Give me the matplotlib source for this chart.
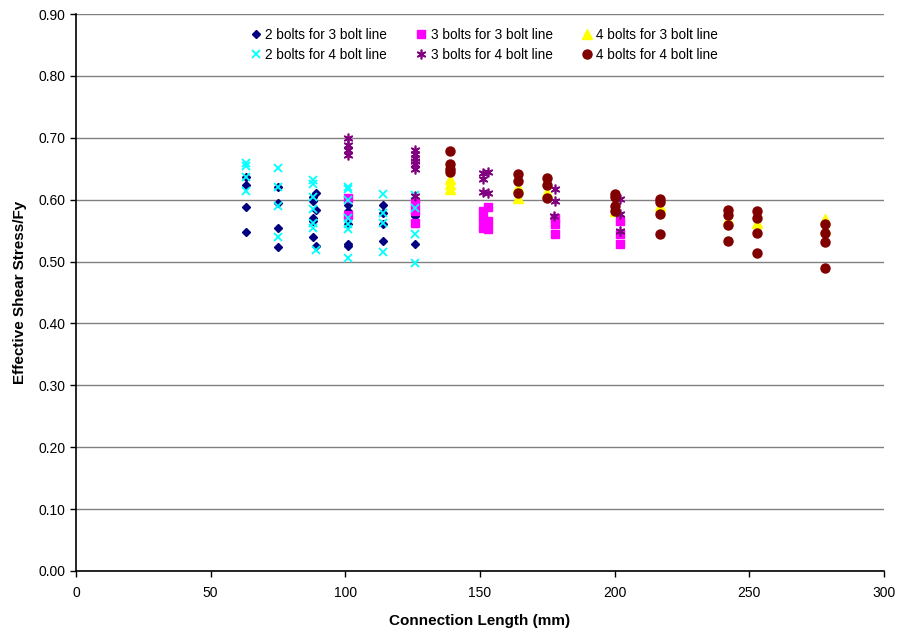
import matplotlib
matplotlib.use("Agg")
import matplotlib.pyplot as plt

plt.rcParams['font.family'] = ['Liberation Sans', 'DejaVu Sans']

# 2 bolts for 3 bolt line
s1_x = [63, 63, 63, 63, 75, 75, 75, 75, 89, 88, 88, 89, 88, 88, 88, 89,
        101, 101, 101, 101, 101, 114, 114, 114, 114, 126, 126]
s1_y = [0.637, 0.624, 0.588, 0.548, 0.620, 0.594, 0.555, 0.523, 0.610, 0.604, 0.598, 0.583, 0.571, 0.566, 0.540, 0.525,
        0.592, 0.582, 0.560, 0.528, 0.525, 0.591, 0.578, 0.561, 0.534, 0.574, 0.529]
# 3 bolts for 3 bolt line
s2_x = [101, 101, 126, 126, 126, 151, 151, 151, 153, 153, 153, 178, 178, 178, 202, 202, 202]
s2_y = [0.603, 0.576, 0.595, 0.582, 0.563, 0.582, 0.569, 0.554, 0.588, 0.566, 0.553,
        0.571, 0.561, 0.545, 0.566, 0.545, 0.528]
# 4 bolts for 3 bolt line
s3_x = [139, 139, 139, 164, 164, 175, 200, 217, 242, 253, 278, 278]
s3_y = [0.633, 0.625, 0.617, 0.620, 0.603, 0.612, 0.582, 0.589, 0.568, 0.562, 0.568, 0.553]
# 2 bolts for 4 bolt line
s4_x = [63, 63, 63, 63, 75, 75, 75, 75, 88, 88, 88, 88, 88, 88, 89,
        101, 101, 101, 101, 101, 101, 101, 114, 114, 114, 114, 126, 126, 126, 126]
s4_y = [0.660, 0.655, 0.637, 0.614, 0.651, 0.620, 0.590, 0.540, 0.632, 0.626, 0.604, 0.585, 0.563, 0.555, 0.518,
        0.620, 0.617, 0.600, 0.571, 0.560, 0.552, 0.506, 0.609, 0.578, 0.563, 0.515, 0.607, 0.587, 0.544, 0.498]
# 3 bolts for 4 bolt line
s5_x = [101, 101, 101, 101, 126, 126, 126, 126, 126, 126, 126, 151, 151, 151, 153, 153,
        178, 178, 177.5, 202, 202, 202]
s5_y = [0.700, 0.689, 0.680, 0.672, 0.681, 0.673, 0.668, 0.662, 0.657, 0.649, 0.606, 0.643, 0.633, 0.613, 0.644, 0.611,
        0.617, 0.598, 0.574, 0.601, 0.577, 0.550]
# 4 bolts for 4 bolt line
s6_x = [139, 139, 139, 139, 164, 164, 164, 175, 175, 175, 200, 200, 200, 200,
        217, 217, 217, 217, 242, 242, 242, 242, 253, 253, 253, 253, 278, 278, 278, 278]
s6_y = [0.679, 0.657, 0.650, 0.645, 0.641, 0.630, 0.610, 0.635, 0.623, 0.603, 0.609, 0.604, 0.590, 0.581,
        0.601, 0.596, 0.577, 0.544, 0.584, 0.575, 0.559, 0.534, 0.582, 0.570, 0.546, 0.514, 0.561, 0.546, 0.532, 0.489]

labels = ["2 bolts for 3 bolt line", "3 bolts for 3 bolt line", "4 bolts for 3 bolt line",
          "2 bolts for 4 bolt line", "3 bolts for 4 bolt line", "4 bolts for 4 bolt line"]
x_ticks = [0, 50, 100, 150, 200, 250, 300]
y_ticks = [0.0, 0.1, 0.2, 0.3, 0.4, 0.5, 0.6, 0.7, 0.8, 0.9]

fig = plt.figure(figsize=(9.01, 6.32), dpi=100)
ax = fig.add_axes([76/901, 61/632, 808/901, 557/632])

h1, = ax.plot(s1_x, s1_y, ls='none', marker='D', ms=4.4, color='#000080', mec='#000080', zorder=3)
h2, = ax.plot(s2_x, s2_y, ls='none', marker='s', ms=6, color='#FF00FF', mec='#FF00FF', zorder=3)
h3, = ax.plot(s3_x, s3_y, ls='none', marker='^', ms=6.5, color='#FFFF00', mec='#FFFF00', zorder=3)
h4, = ax.plot(s4_x, s4_y, ls='none', marker='x', ms=6.3, mew=1.3, color='#00FFFF', zorder=3)
h5, = ax.plot(s5_x, s5_y, ls='none', marker=(6, 2, 0), ms=7, mew=1.2, color='#800080', zorder=3)
h6, = ax.plot(s6_x, s6_y, ls='none', marker='o', ms=6.5, color='#800000', mec='#800000', zorder=3)

ax.set_xlim(0, 300)
ax.set_ylim(0, 0.9)
ax.set_xticks(x_ticks)
ax.set_xticklabels([str(v) for v in x_ticks])
ax.set_yticks(y_ticks)
ax.set_yticklabels([f"{v:.2f}" for v in y_ticks])
ax.tick_params(axis='both', labelsize=10, direction='out', length=4, width=1, colors='black')
ax.tick_params(axis='x', pad=7)
ax.yaxis.grid(True, color='#808080', lw=1)
ax.set_axisbelow(True)
for s in ['top', 'right']:
    ax.spines[s].set_visible(False)
for s in ['left', 'bottom']:
    ax.spines[s].set_linewidth(1.2)

ax.set_xlabel("Connection Length (mm)", fontsize=11, fontweight='bold', labelpad=10)
ax.set_ylabel("Effective Shear Stress/Fy", fontsize=11, fontweight='bold', labelpad=8)

handles = [h1, h4, h2, h5, h3, h6]
labs = [labels[0], labels[3], labels[1], labels[4], labels[2], labels[5]]
ax.legend(handles, labs, ncol=3, frameon=False, loc='upper center', bbox_to_anchor=(0.505, 0.992),
          fontsize=9.8, handlelength=0.8, handletextpad=0.3, columnspacing=2.1, labelspacing=0.42,
          borderaxespad=0.3)

fig.savefig("out.png", dpi=100)
